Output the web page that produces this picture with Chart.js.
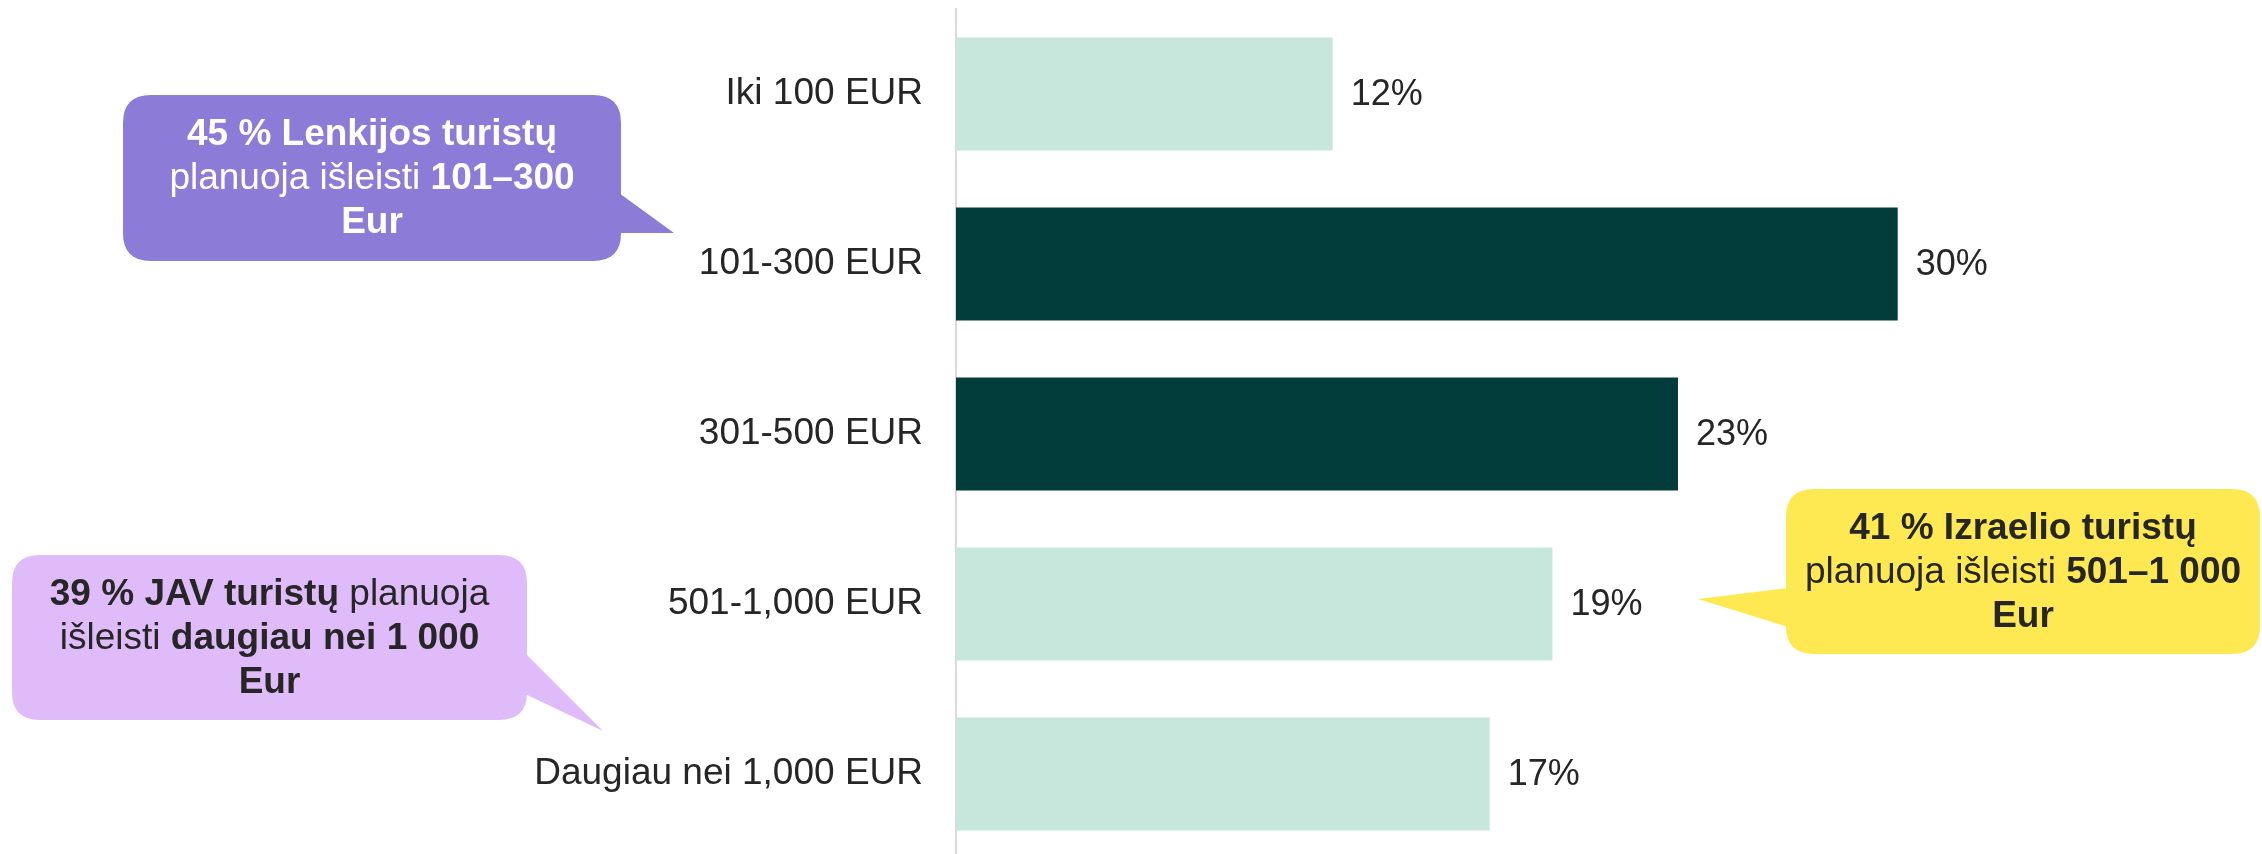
<!DOCTYPE html>
<html>
<head>
<meta charset="utf-8">
<script src="https://cdn.jsdelivr.net/npm/chart.js@4"></script>
<style>
  html, body { margin: 0; padding: 0; background: #fff; overflow: hidden; }
  #wrap { width: 2262px; height: 859px; position: relative; }
</style>
</head>
<body>
<div id="wrap"><canvas id="chart"></canvas></div>
<script>
// Data
const kategorijos = ['Iki 100 EUR', '101-300 EUR', '301-500 EUR', '501-1,000 EUR', 'Daugiau nei 1,000 EUR'];
const procentai = [12, 30, 23, 19, 17];

// Styles
const SVIESI = '#C7E7DD';
const TAMSI = '#023D3B';
const spalvos = [SVIESI, TAMSI, TAMSI, SVIESI, SVIESI];
const FONT = '"Liberation Sans", Arial, sans-serif';
const TEKSTAS = '#262626';

// Callouts (annotations)
const pastabos = [
    {
        box: [123, 95, 621, 261], fill: '#8C7BD7', color: '#ffffff',
        pointer: [[619, 193], [674, 233], [619, 233]],
        lines: [
            [['45 % Lenkijos turistų', true]],
            [['planuoja išleisti ', false], ['101–300', true]],
            [['Eur', true]],
        ],
    },
    {
        box: [12, 555, 527, 720], fill: '#E0BBFA', color: TEKSTAS,
        pointer: [[525, 653], [603, 731], [525, 694]],
        lines: [
            [['39 % JAV turistų', true], [' planuoja', false]],
            [['išleisti ', false], ['daugiau nei 1 000', true]],
            [['Eur', true]],
        ],
    },
    {
        box: [1786, 489, 2260, 654], fill: '#FFE952', color: TEKSTAS,
        pointer: [[1788, 588], [1698, 599], [1788, 627]],
        lines: [
            [['41 % Izraelio turistų', true]],
            [['planuoja išleisti ', false], ['501–1 000', true]],
            [['Eur', true]],
        ],
    },
];

// Value labels next to bars
const reiksmiuZymos = {
    id: 'reiksmiuZymos',
    afterDatasetsDraw(chart) {
        const ctx = chart.ctx;
        const meta = chart.getDatasetMeta(0);
        ctx.save();
        ctx.font = '36px ' + FONT;
        ctx.fillStyle = TEKSTAS;
        ctx.textAlign = 'left';
        ctx.textBaseline = 'middle';
        meta.data.forEach((bar, i) => {
            ctx.fillText(procentai[i] + '%', bar.x + 18, bar.y + 1);
        });
        ctx.restore();
    }
};

function roundRect(ctx, x0, y0, x1, y1, r) {
    ctx.beginPath();
    ctx.moveTo(x0 + r, y0);
    ctx.lineTo(x1 - r, y0);
    ctx.quadraticCurveTo(x1, y0, x1, y0 + r);
    ctx.lineTo(x1, y1 - r);
    ctx.quadraticCurveTo(x1, y1, x1 - r, y1);
    ctx.lineTo(x0 + r, y1);
    ctx.quadraticCurveTo(x0, y1, x0, y1 - r);
    ctx.lineTo(x0, y0 + r);
    ctx.quadraticCurveTo(x0, y0, x0 + r, y0);
    ctx.closePath();
}

const pastabuPlugin = {
    id: 'pastabos',
    afterDraw(chart) {
        const ctx = chart.ctx;
        ctx.save();
        pastabos.forEach(p => {
            const [x0, y0, x1, y1] = p.box;
            ctx.fillStyle = p.fill;
            roundRect(ctx, x0, y0, x1, y1, 28);
            ctx.fill();
            ctx.beginPath();
            ctx.moveTo(p.pointer[0][0], p.pointer[0][1]);
            ctx.lineTo(p.pointer[1][0], p.pointer[1][1]);
            ctx.lineTo(p.pointer[2][0], p.pointer[2][1]);
            ctx.closePath();
            ctx.fill();

            const cx = (x0 + x1) / 2;
            const cy = (y0 + y1) / 2;
            const tarpas = 44;
            ctx.fillStyle = p.color;
            ctx.textBaseline = 'middle';
            ctx.textAlign = 'left';
            p.lines.forEach((eil, li) => {
                const y = cy + (li - (p.lines.length - 1) / 2) * tarpas + 1;
                let plotis = 0;
                eil.forEach(([t, bold]) => {
                    ctx.font = (bold ? 'bold ' : '') + '37px ' + FONT;
                    plotis += ctx.measureText(t).width;
                });
                let x = cx - plotis / 2;
                eil.forEach(([t, bold]) => {
                    ctx.font = (bold ? 'bold ' : '') + '37px ' + FONT;
                    ctx.fillText(t, x, y);
                    x += ctx.measureText(t).width;
                });
            });
        });
        ctx.restore();
    }
};

const ctx = document.getElementById('chart').getContext('2d');
const chart = new Chart(ctx, {
    type: 'bar',
    data: {
        labels: kategorijos,
        datasets: [{
            data: procentai,
            backgroundColor: spalvos,
            borderWidth: 0,
            barPercentage: 0.665,
            categoryPercentage: 1,
        }],
    },
    options: {
        indexAxis: 'y',
        responsive: true,
        maintainAspectRatio: false,
        animation: false,
        layout: { padding: { top: 9, right: 19, bottom: 0, left: 0 } },
        scales: {
            x: {
                display: false,
                min: 0,
                max: 41,
            },
            y: {
                grid: { display: false, drawTicks: false },
                border: { display: true, color: '#D9D9D9', width: 2 },
                ticks: {
                    color: TEKSTAS,
                    padding: 33,
                    font: { family: FONT, size: 37 },
                },
                afterFit(scale) {
                    scale.width = 956;
                    scale.paddingTop = 0;
                    scale.paddingBottom = 0;
                },
            },
        },
        plugins: {
            legend: { display: false },
            tooltip: { enabled: false },
        },
    },
    plugins: [reiksmiuZymos, pastabuPlugin],
});
</script>
</body>
</html>
